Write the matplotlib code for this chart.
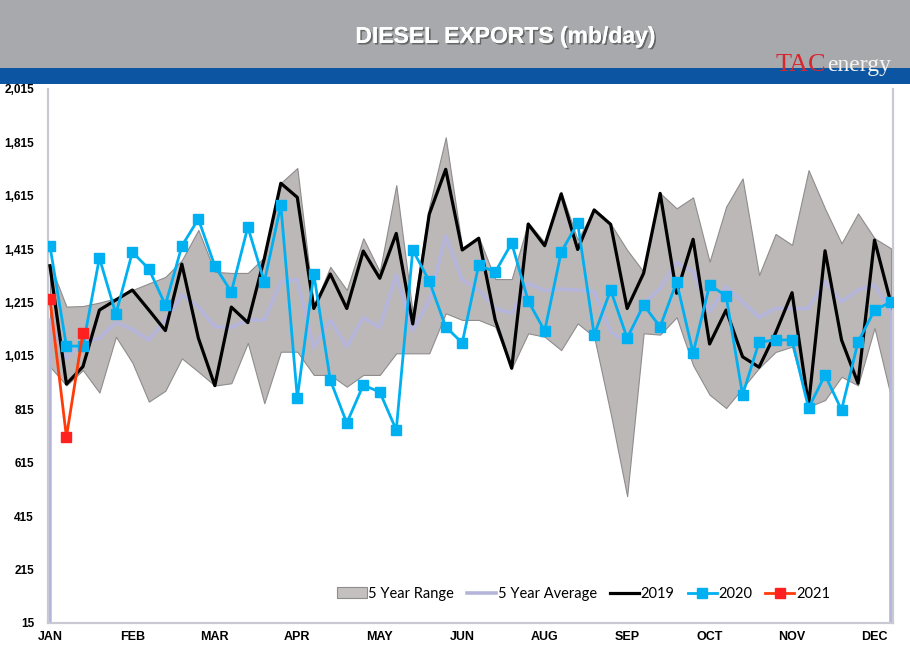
import numpy as np
import matplotlib
matplotlib.use('Agg')
import matplotlib.pyplot as plt
import matplotlib.patheffects as pe
from matplotlib.patches import Rectangle, Patch
from matplotlib.lines import Line2D

# Data (mb/day), 52 weekly points
WEEKS = list(range(52))
MONTH_LABELS = ['JAN', 'FEB', 'MAR', 'APR', 'MAY', 'JUN',
                'AUG', 'SEP', 'OCT', 'NOV', 'DEC']
Y_TICKS = [15, 215, 415, 615, 815, 1015, 1215, 1415, 1615, 1815, 2015]

range_max = [1360, 1200, 1202, 1215, 1231, 1262, 1287, 1311, 1374, 1487,
             1330, 1326, 1326, 1385, 1663, 1719, 1200, 1349, 1262, 1456,
             1331, 1655, 1175, 1574, 1834, 1420, 1460, 1303, 1303, 1515,
             1440, 1630, 1450, 1565, 1510, 1412, 1330, 1625, 1568, 1609,
             1368, 1574, 1680, 1318, 1472, 1431, 1711, 1567, 1437, 1549,
             1456, 1418]
range_min = [975, 905, 962, 878, 1087, 990, 844, 885, 1006, 956,
             904, 913, 1064, 838, 1031, 1031, 944, 944, 900, 944,
             944, 1025, 1025, 1025, 1175, 1150, 1150, 1125, 969, 1100,
             1087, 1037, 1137, 1087, 800, 490, 1100, 1095, 1160, 980,
             870, 820, 895, 970, 1030, 1050, 825, 850, 937, 905,
             1120, 862]
avg_5yr = [1150, 1006, 1068, 1081, 1141, 1115, 1075, 1150, 1243, 1200,
           1125, 1122, 1150, 1150, 1293, 1302, 1046, 1150, 1050, 1158,
           1122, 1318, 1110, 1225, 1464, 1300, 1262, 1193, 1175, 1287,
           1260, 1265, 1262, 1256, 1106, 1065, 1212, 1268, 1365, 1331,
           1181, 1274, 1218, 1160, 1193, 1193, 1193, 1293, 1218, 1262,
           1281, 1177]
y2019 = [1353, 910, 975, 1187, 1225, 1262, 1187, 1110, 1359, 1082,
         904, 1198, 1140, 1380, 1662, 1609, 1193, 1322, 1193, 1408,
         1306, 1474, 1135, 1546, 1714, 1412, 1456, 1150, 969, 1509,
         1428, 1622, 1414, 1562, 1508, 1193, 1325, 1624, 1250, 1452,
         1060, 1187, 1012, 973, 1101, 1252, 831, 1409, 1075, 913,
         1449, 1212]
y2020 = [1427, 1052, 1052, 1382, 1172, 1404, 1341, 1206, 1427, 1528,
         1352, 1255, 1498, 1292, 1580, 858, 1322, 925, 764, 906,
         880, 738, 1412, 1296, 1124, 1064, 1356, 1329, 1438, 1221,
         1109, 1404, 1513, 1094, 1262, 1082, 1206, 1124, 1292, 1026,
         1281, 1240, 869, 1067, 1075, 1075, 820, 944, 813, 1067,
         1187, 1217]
y2021 = [1228, 712, 1102]

YMIN, YMAX = 15, 2015

fig = plt.figure(figsize=(9.10, 6.61), dpi=100)
fig.patch.set_facecolor('white')

# Header bands
fig.patches.append(Rectangle((0, 0.8971), 1, 0.1029, transform=fig.transFigure,
                             facecolor='#a7a9ac', edgecolor='none', zorder=0))
fig.patches.append(Rectangle((0, 0.8729), 1, 0.0242, transform=fig.transFigure,
                             facecolor='#0b55a3', edgecolor='none', zorder=0))

fig.text(0.555, 0.945, 'DIESEL EXPORTS (mb/day)', ha='center', va='center',
         fontsize=16.5, fontweight='bold', color='white', family='Liberation Sans',
         path_effects=[pe.withSimplePatchShadow(offset=(1.2, -1.2), shadow_rgbFace='#4a4a4a', alpha=0.7),
                       pe.Normal()])
fig.text(0.852, 0.892, 'TAC', ha='left', va='baseline', fontsize=19,
         color='#d8262e', family='Liberation Serif')
fig.text(0.909, 0.892, 'energy', ha='left', va='baseline', fontsize=17,
         color='#f4f4f4', family='Liberation Serif')

ax = fig.add_axes([0.0527, 0.0575, 0.9286, 0.8079])
x = np.array(WEEKS)

# 5 year range
ax.fill_between(x, range_min, range_max, facecolor='#bcb8b8', edgecolor='#8e8c8c',
                linewidth=0.8, zorder=1)

# 5 year average (drawn like an unfilled area, dropping to the axis at both ends)
ax.plot(np.r_[x[0], x, x[-1]], np.r_[YMIN, avg_5yr, YMIN], color='#b5b5dc', lw=2.6,
        zorder=2)

ax.plot(x, y2019, color='black', lw=2.3, zorder=3)
ax.plot(x, y2020, color='#00b0f0', lw=2.0, marker='s', markersize=7.5, zorder=4)
ax.plot(x[:len(y2021)], y2021, color='#ff3b0a', lw=2.0, marker='s', markersize=7.5,
        markerfacecolor='#ff2020', markeredgecolor='#ff2020', zorder=5)

ax.set_xlim(-0.12, 51.12)
ax.set_ylim(YMIN, YMAX)
ax.set_yticks(Y_TICKS)
ax.set_yticklabels(['{:,}'.format(v) for v in Y_TICKS], fontsize=8.5,
                   fontweight='bold', family='Liberation Sans')
ax.set_xticks(x[::5])
ax.set_xticklabels(MONTH_LABELS, fontsize=9, fontweight='bold', family='Liberation Sans')
ax.tick_params(axis='y', length=0, pad=10)
ax.tick_params(axis='x', length=0, pad=6)

ax.spines['top'].set_visible(False)
for s in ['left', 'right', 'bottom']:
    ax.spines[s].set_color('#c9c9d4')
    ax.spines[s].set_linewidth(1.6)

handles = [
    Patch(facecolor='#c4c0c0', edgecolor='#8e8c8c', linewidth=0.8),
    Line2D([], [], color='#b5b5dc', lw=2.6),
    Line2D([], [], color='black', lw=2.3),
    Line2D([], [], color='#00b0f0', lw=2.0, marker='s', markersize=7.5),
    Line2D([], [], color='#ff3b0a', lw=2.0, marker='s', markersize=7.5,
           markerfacecolor='#ff2020', markeredgecolor='#ff2020'),
]
labels = ['5 Year Range', '5 Year Average', '2019', '2020', '2021']
leg = ax.legend(handles, labels, loc='center', bbox_to_anchor=(0.634, 0.055), ncol=5,
                frameon=False, handlelength=2.0, handletextpad=0.1, columnspacing=0.9,
                prop={'family': 'Lato', 'size': 10.5})

fig.savefig('out.png', dpi=100, facecolor='white')
